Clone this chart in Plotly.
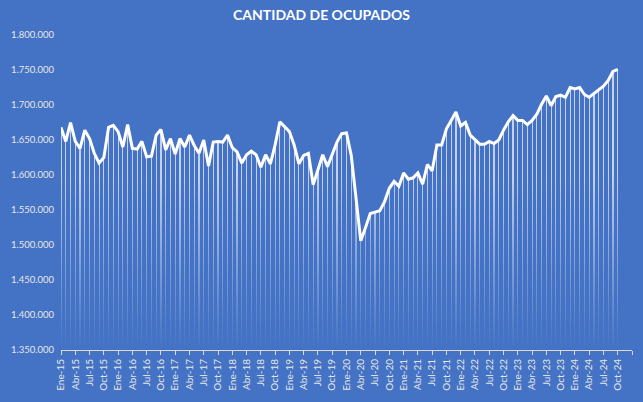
import plotly.graph_objects as go

MONTHS = ["Ene", "Feb", "Mar", "Abr", "May", "Jun", "Jul", "Ago", "Sep", "Oct", "Nov", "Dic"]
YEARS = ["15", "16", "17", "18", "19", "20", "21", "22", "23", "24"]

ocupados = [
    # 2015
    1668000, 1648000, 1675000, 1648000, 1638000, 1664000, 1652000, 1631000, 1617000, 1625000, 1668000, 1671000,
    # 2016
    1662000, 1640000, 1672000, 1638000, 1637000, 1648000, 1626000, 1627000, 1657000, 1665000, 1636000, 1652000,
    # 2017
    1630000, 1652000, 1640000, 1657000, 1642000, 1631000, 1650000, 1613000, 1647000, 1648000, 1647000, 1657000,
    # 2018
    1639000, 1633000, 1617000, 1629000, 1634000, 1629000, 1611000, 1629000, 1616000, 1643000, 1676000, 1669000,
    # 2019
    1662000, 1643000, 1616000, 1628000, 1631000, 1586000, 1606000, 1629000, 1612000, 1629000, 1647000, 1659000,
    # 2020
    1660000, 1628000, 1562000, 1506000, 1525000, 1545000, 1547000, 1549000, 1562000, 1581000, 1591000, 1584000,
    # 2021
    1603000, 1594000, 1596000, 1603000, 1587000, 1615000, 1606000, 1643000, 1643000, 1666000, 1678000, 1690000,
    # 2022
    1670000, 1675000, 1657000, 1650000, 1644000, 1644000, 1648000, 1645000, 1650000, 1664000, 1676000, 1685000,
    # 2023
    1678000, 1678000, 1672000, 1678000, 1687000, 1701000, 1713000, 1699000, 1712000, 1714000, 1711000, 1725000,
    # 2024
    1723000, 1725000, 1715000, 1711000, 1716000, 1721000, 1727000, 1735000, 1748000, 1751000,
]

labels = [f"{m}-{y}" for y in YEARS for m in MONTHS][:len(ocupados)]
idx = list(range(len(ocupados)))

Y_MIN, Y_MAX = 1350000, 1800000
X_MAX = 120
BG = "#4472C4"

tickvals = list(range(0, X_MAX + 1, 3))
ticktext = [labels[i] if i < len(labels) else "" for i in tickvals]

fig = go.Figure()

# thin vertical drop lines
fig.add_trace(go.Bar(
    x=idx, y=[v - Y_MIN for v in ocupados], base=Y_MIN,
    width=0.24, marker=dict(color="rgba(255,255,255,0.68)", line=dict(width=0)),
    hoverinfo="skip", showlegend=False,
))

# fade of the drop lines towards the bottom
fig.add_trace(go.Scatter(
    x=[0, X_MAX, X_MAX, 0, 0], y=[Y_MIN, Y_MIN, 1600000, 1600000, Y_MIN],
    mode="lines", line=dict(width=0), fill="toself",
    fillgradient=dict(type="vertical",
                      colorscale=[[0, "rgba(68,114,196,1)"], [1, "rgba(68,114,196,0)"]]),
    hoverinfo="skip", showlegend=False,
))

# main line
fig.add_trace(go.Scatter(
    x=idx, y=ocupados, mode="lines",
    line=dict(color="white", width=3),
    hoverinfo="skip", showlegend=False,
))

fig.update_layout(
    width=643, height=402,
    paper_bgcolor=BG, plot_bgcolor=BG,
    margin=dict(l=55, r=11, t=35, b=47),
    separators=",.",
    bargap=0,
    title=dict(text="<b>CANTIDAD DE OCUPADOS</b>", x=0.5, xref="container",
               y=1 - 15 / 402, yref="container", yanchor="middle", xanchor="center",
               font=dict(family="Lato", size=14, color="white")),
    xaxis=dict(range=[0, X_MAX], tickmode="array", tickvals=tickvals, ticktext=ticktext,
               tickangle=-90, ticks="outside", ticklen=4, tickcolor="rgb(217,217,217)",
               showline=True, linecolor="rgb(217,217,217)", linewidth=1,
               showgrid=False, zeroline=False,
               tickfont=dict(family="Lato", size=10, color="rgb(230,230,230)")),
    yaxis=dict(range=[Y_MIN, Y_MAX], dtick=50000, tickformat=",d",
               showgrid=False, zeroline=False, showline=False,
               ticklabelstandoff=6,
               tickfont=dict(family="Lato", size=9.5, color="rgb(230,230,230)")),
)

fig.write_html("out.html")
